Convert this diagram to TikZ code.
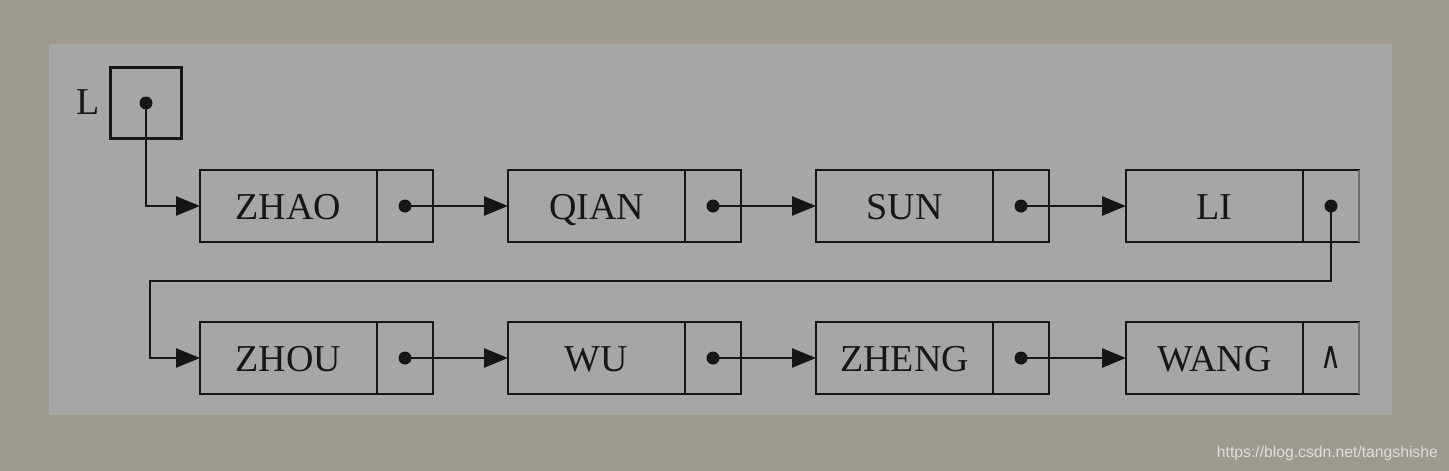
\documentclass[tikz,border=0pt]{standalone}
\usepackage{fontspec}
\setmainfont{Liberation Serif}
\newfontfamily\wmfont{Liberation Sans}
\newfontfamily\symfont{DejaVu Sans}
\usetikzlibrary{arrows.meta}
\definecolor{outerbg}{RGB}{158,155,141}
\definecolor{panel}{RGB}{166,166,166}
\definecolor{ink}{RGB}{22,22,22}
\definecolor{cutgray}{RGB}{110,110,110}
\definecolor{wmtext}{RGB}{222,222,222}
\tikzset{
  field/.style={draw=ink, line width=2.6pt, minimum height=72pt, inner sep=0pt,
    outer sep=0pt, text=ink, font=\fontsize{38}{40}\selectfont,
    text height=26pt, text depth=0pt},
  datafield/.style={field, minimum width=177pt},
  ptrfield/.style={field, minimum width=56pt},
  headbox/.style={field, minimum width=71pt, minimum height=71pt},
  link/.style={draw=ink, line width=2.6pt, -{Triangle[length=24pt,width=19pt]}},
  dotmark/.style={fill=ink, circle, inner sep=0pt, minimum size=13pt},
  cutedge/.style={draw=cutgray, line width=2.4pt},
}
\begin{document}
\begin{tikzpicture}[x=1pt,y=-1pt]
\useasboundingbox (0,0) rectangle (1449,471);
\fill[outerbg] (0,0) rectangle (1449,471);
\fill[panel] (49,44) rectangle (1392,415);

% head pointer
\node[headbox] (L) at (146,103) {};
\node[text=ink, font=\fontsize{38}{40}\selectfont] (Llab) at (88,102) {L};

% row 1
\node[datafield] (d1) at (288.5,206) {ZHAO};
\node[ptrfield, anchor=west] (p1) at (d1.east) {};
\node[datafield] (d2) at (596.5,206) {QIAN};
\node[ptrfield, anchor=west] (p2) at (d2.east) {};
\node[datafield] (d3) at (904.5,206) {SUN};
\node[ptrfield, anchor=west] (p3) at (d3.east) {};
\node[datafield] (d4) at (1214.5,206) {LI};
\node[ptrfield, anchor=west] (p4) at (d4.east) {};

% row 2
\node[datafield] (d5) at (288.5,358) {ZHOU};
\node[ptrfield, anchor=west] (p5) at (d5.east) {};
\node[datafield] (d6) at (596.5,358) {WU};
\node[ptrfield, anchor=west] (p6) at (d6.east) {};
\node[datafield] (d7) at (904.5,358) {ZHENG};
\node[ptrfield, anchor=west] (p7) at (d7.east) {};
\node[datafield] (d8) at (1214.5,358) {WANG};
\node[ptrfield, anchor=west] (p8) at (d8.east) {};
\node[text=ink, font=\symfont\fontsize{36}{36}\selectfont, inner sep=0pt] (nil) at (p8.center) {\scalebox{0.8}[1.05]{∧}};

% cut right edges of the last column
\draw[cutedge] (p4.north east) -- (p4.south east);
\draw[cutedge] (p8.north east) -- (p8.south east);

% dots
\node[dotmark] (c0) at (L.center) {};
\node[dotmark] (c1) at (p1.center) {};
\node[dotmark] (c2) at (p2.center) {};
\node[dotmark] (c3) at (p3.center) {};
\node[dotmark] (c4) at (p4.center) {};
\node[dotmark] (c5) at (p5.center) {};
\node[dotmark] (c6) at (p6.center) {};
\node[dotmark] (c7) at (p7.center) {};

% links
\draw[link] (c0.center) |- (d1.west);
\draw[link] (c1.center) -- (d2.west);
\draw[link] (c2.center) -- (d3.west);
\draw[link] (c3.center) -- (d4.west);
\coordinate (bend) at (150,281);
\draw[link] (c4.center) -- (c4.center |- bend) -- (bend) |- (d5.west);
\draw[link] (c5.center) -- (d6.west);
\draw[link] (c6.center) -- (d7.west);
\draw[link] (c7.center) -- (d8.west);

% watermark
\node[anchor=base east, text=wmtext, font=\wmfont\fontsize{15.7}{17}\selectfont, inner sep=0pt] (wm) at (1438,457) {https://blog.csdn.net/tangshishe};
\end{tikzpicture}
\end{document}
